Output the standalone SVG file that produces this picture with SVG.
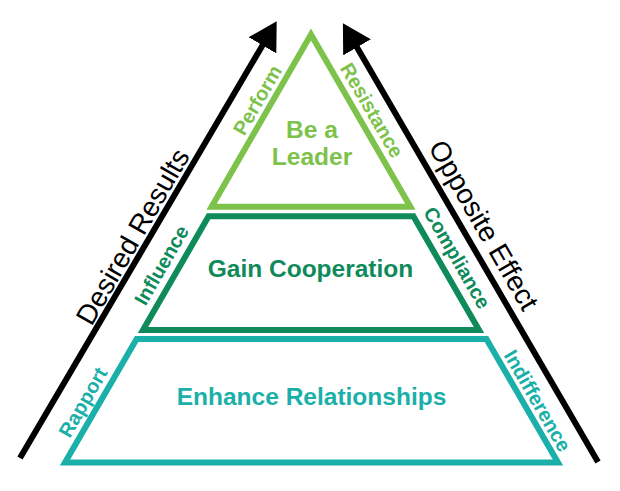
<svg xmlns="http://www.w3.org/2000/svg" width="620" height="491" viewBox="0 0 620 491">
<style>
.tier{fill:none;stroke-width:6;stroke-linejoin:miter;stroke-miterlimit:10}
.t1{stroke:#7dc24b}
.t2{stroke:#0f8a5a}
.t3{stroke:#1ab0a9}
.f1{fill:#7dc24b}
.f2{fill:#0f8a5a}
.f3{fill:#1ab0a9}
.main{font-family:"Liberation Sans",Arial,sans-serif;font-weight:bold;font-size:24.5px;text-anchor:middle}
.side{font-family:"Liberation Sans",Arial,sans-serif;font-weight:bold;font-size:20px;text-anchor:middle}
.axis{font-family:"Liberation Sans",Arial,sans-serif;font-size:28px;text-anchor:middle;fill:#000}
.arrow{stroke:#000;stroke-width:6;fill:none;marker-end:url(#head)}
</style>
<defs>
<marker id="head" markerUnits="userSpaceOnUse" markerWidth="28" markerHeight="32" viewBox="0 0 28 32" refX="1" refY="16" orient="auto">
<path d="M0,0 L28,16 L0,32 z" fill="#000"/>
</marker>
</defs>
<g id="connectors">
<line id="arrow-desired" class="arrow" x1="20" y1="458" x2="263" y2="44.5"/>
<line id="arrow-opposite" class="arrow" x1="598" y1="462" x2="356.5" y2="46.5"/>
</g>
<g id="axis-labels">
<text class="axis" transform="translate(141,241.4) rotate(-60)">Desired Results</text>
<text class="axis" transform="translate(475.5,229.9) rotate(60)">Opposite Effect</text>
</g>
<g id="tier-top">
<polygon class="tier t1" points="311,34.6 410.4,206.7 211.6,206.7"/>
<text class="main f1" x="312" y="138">Be a</text>
<text class="main f1" x="312" y="165">Leader</text>
<text class="side f1" transform="translate(263.5,103.5) rotate(-60)">Perform</text>
<text class="side f1" transform="translate(366,113.7) rotate(60)">Resistance</text>
</g>
<g id="tier-middle">
<polygon class="tier t2" points="208.6,216.3 413.4,216.3 479,330 143,330"/>
<text class="main f2" x="310.5" y="277">Gain Cooperation</text>
<text class="side f2" transform="translate(167.5,268.7) rotate(-60)">Influence</text>
<text class="side f2" transform="translate(451,261.2) rotate(60)">Compliance</text>
</g>
<g id="tier-bottom">
<polygon class="tier t3" points="136.6,339 486.4,339 558,462.5 65,462.5"/>
<text class="main f3" x="311.5" y="405">Enhance Relationships</text>
<text class="side f3" transform="translate(89,405.7) rotate(-60)">Rapport</text>
<text class="side f3" transform="translate(531.5,404.2) rotate(60)">Indifference</text>
</g>
</svg>
